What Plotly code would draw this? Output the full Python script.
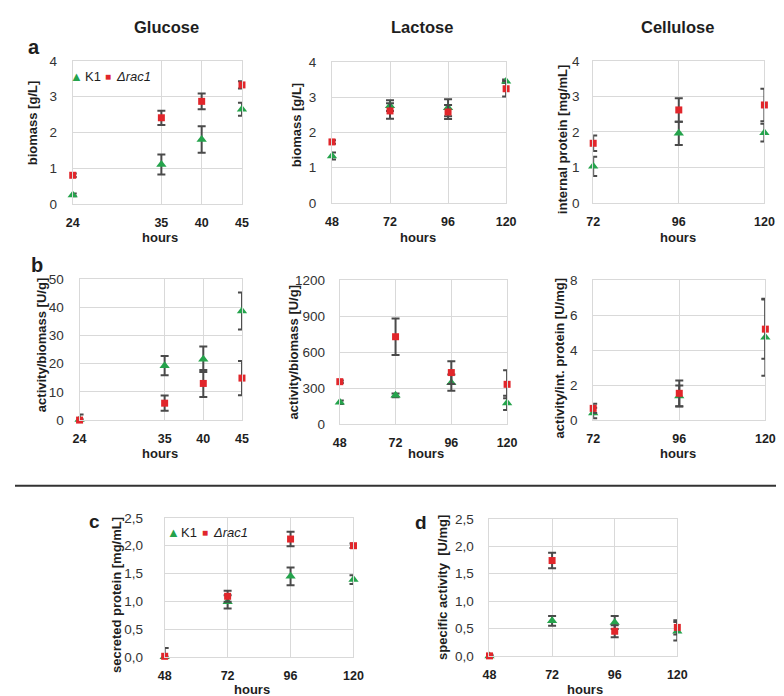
import plotly.graph_objects as go

# ---------------- data ----------------
glu_hours = [24, 35, 40, 45]
lac_hours = [48, 72, 96, 120]
cel_hours = [72, 96, 120]

# (a) biomass / internal protein
glu_bio_k1 = [0.25, 1.10, 1.80, 2.65]
glu_bio_k1_err = [0.04, 0.28, 0.37, 0.18]
glu_bio_rac = [0.80, 2.41, 2.87, 3.33]
glu_bio_rac_err = [0.05, 0.20, 0.22, 0.10]

lac_bio_k1 = [1.33, 2.76, 2.70, 3.45]
lac_bio_k1_err = [0.10, 0.15, 0.24, 0.05]
lac_bio_rac = [1.73, 2.61, 2.58, 3.24]
lac_bio_rac_err = [0.05, 0.22, 0.20, 0.22]

cel_prot_k1 = [1.03, 1.96, 1.98]
cel_prot_k1_err = [0.27, 0.33, 0.25]
cel_prot_rac = [1.68, 2.62, 2.76]
cel_prot_rac_err = [0.22, 0.33, 0.46]

# (b) activity
glu_act_k1 = [0.2, 19.3, 21.6, 38.7]
glu_act_k1_err = [1.8, 3.4, 4.5, 6.6]
glu_act_rac = [0.0, 6.0, 13.0, 14.9]
glu_act_rac_err = [0.3, 2.7, 4.8, 6.1]

lac_act_k1 = [182, 239, 345, 176]
lac_act_k1_err = [15, 15, 68, 60]
lac_act_rac = [353, 728, 429, 331]
lac_act_rac_err = [10, 152, 95, 117]

cel_act_k1 = [0.41, 1.38, 4.73]
cel_act_k1_err = [0.30, 0.60, 2.20]
cel_act_rac = [0.67, 1.53, 5.20]
cel_act_rac_err = [0.26, 0.74, 1.70]

# (c) secreted protein, (d) specific activity
sec_k1 = [0.0, 0.99, 1.45, 1.39]
sec_k1_err = [0.0, 0.12, 0.16, 0.08]
sec_rac = [0.01, 1.09, 2.12, 2.00]
sec_rac_err = [0.15, 0.10, 0.13, 0.04]

spec_k1 = [0.0, 0.64, 0.61, 0.45]
spec_k1_err = [0.0, 0.09, 0.12, 0.17]
spec_rac = [0.0, 1.74, 0.45, 0.52]
spec_rac_err = [0.02, 0.14, 0.11, 0.13]

comma_vals = [0, 0.5, 1.0, 1.5, 2.0, 2.5]
comma_text = ["0,0", "0,5", "1,0", "1,5", "2,0", "2,5"]

# ---------------- style ----------------
W, H = 784, 696
FONT = "Arial, Liberation Sans, sans-serif"
GREEN = "#25a34c"
RED = "#e1262b"
ERR = "#4a4a4a"
GRID = "#d9d9d9"
TXT = "#1e1e1e"


def px(x):
    return x / W


def py(y):
    return 1 - y / H


panels = [
    (glu_hours, glu_bio_k1, glu_bio_k1_err, glu_bio_rac, glu_bio_rac_err, (59, 232), (47, 193), [24, 45], glu_hours, [0, 4], dict(dtick=1), 12),
    (lac_hours, lac_bio_k1, lac_bio_k1_err, lac_bio_rac, lac_bio_rac_err, (324, 502), (48, 192), [48, 120], lac_hours, [0, 4], dict(dtick=1), 12),
    (cel_hours, cel_prot_k1, cel_prot_k1_err, cel_prot_rac, cel_prot_rac_err, (591, 766), (47, 192), [72, 120], cel_hours, [0, 4], dict(dtick=1), 10),
    (glu_hours, glu_act_k1, glu_act_k1_err, glu_act_rac, glu_act_rac_err, (66, 232), (270, 414), [24, 45], glu_hours, [0, 50], dict(dtick=10), 12),
    (lac_hours, lac_act_k1, lac_act_k1_err, lac_act_rac, lac_act_rac_err, (332, 503), (271, 418), [48, 120], lac_hours, [0, 1200], dict(dtick=300), 11),
    (cel_hours, cel_act_k1, cel_act_k1_err, cel_act_rac, cel_act_rac_err, (591, 767), (271, 414), [72, 120], cel_hours, [0, 8], dict(dtick=2), 12),
    (lac_hours, sec_k1, sec_k1_err, sec_rac, sec_rac_err, (153, 346), (514, 656), [48, 120], lac_hours, [0, 2.5], dict(tickvals=comma_vals, ticktext=comma_text), 18),
    (lac_hours, spec_k1, spec_k1_err, spec_rac, spec_rac_err, (485, 677), (515, 655), [48, 120], lac_hours, [0, 2.5], dict(tickvals=comma_vals, ticktext=comma_text), 12),
]

fig = go.Figure()
layout = dict(
    width=W, height=H,
    margin=dict(l=0, r=0, t=0, b=0),
    paper_bgcolor="white", plot_bgcolor="white",
    showlegend=False,
    font=dict(family=FONT, color=TXT),
)

for i, (xs, k1, k1e, rac, race, xd, yd, xr, xt, yr, yt, ystand) in enumerate(panels, start=1):
    sfx = "" if i == 1 else str(i)
    fig.add_trace(go.Scatter(
        x=xs, y=k1, mode="markers", name="K1",
        xaxis="x" + sfx, yaxis="y" + sfx, cliponaxis=False,
        marker=dict(symbol="triangle-up", size=9, color=GREEN),
        error_y=dict(type="data", array=k1e, visible=True, color=ERR, thickness=2, width=4),
    ))
    fig.add_trace(go.Scatter(
        x=xs, y=rac, mode="markers", name="Δrac1",
        xaxis="x" + sfx, yaxis="y" + sfx, cliponaxis=False,
        marker=dict(symbol="square", size=7, color=RED),
        error_y=dict(type="data", array=race, visible=True, color=ERR, thickness=2, width=4),
    ))
    layout["xaxis" + sfx] = dict(
        domain=[px(xd[0]), px(xd[1])], anchor="y" + sfx, range=xr,
        tickvals=xt, showgrid=True, gridcolor=GRID, gridwidth=1,
        showline=True, linecolor=GRID, linewidth=1, mirror=True,
        zeroline=False, ticks="", ticklabelstandoff=7,
        tickfont=dict(family=FONT, size=12.5, color=TXT, weight="bold"),
    )
    yax = dict(
        domain=[py(yd[1]), py(yd[0])], anchor="x" + sfx, range=yr,
        showgrid=True, gridcolor=GRID, gridwidth=1,
        showline=True, linecolor=GRID, linewidth=1, mirror=True,
        zeroline=False, ticks="", ticklabelstandoff=ystand,
        tickfont=dict(family=FONT, size=13.5, color="#333333"),
    )
    yax.update(yt)
    layout["yaxis" + sfx] = yax

fig.update_layout(**layout)


def ann(text, x, y, size=12, bold=True, angle=0, color=TXT, xanchor="center", italic=False):
    t = text
    if italic:
        t = "<i>" + t + "</i>"
    fig.add_annotation(
        text=t, x=px(x), y=py(y), xref="paper", yref="paper",
        showarrow=False, textangle=angle, xanchor=xanchor, yanchor="middle",
        font=dict(family=FONT, size=size, color=color, weight="bold" if bold else "normal"),
    )


# column titles
ann("Glucose", 155, 12, size=16.5)
ann("Lactose", 416, 12, size=16.5)
ann("Cellulose", 677, 12, size=16.5)

# panel letters
ann("a", 19, 33, size=20)
ann("b", 22, 255, size=20)
ann("c", 81, 518, size=19)
ann("d", 415, 519, size=19)

# x axis titles
for x, y in [(148, 227), (412, 227), (678, 227), (148, 448), (420, 448), (678, 448), (242, 689), (583, 689)]:
    ann("hours", x, y, size=13)

# y axis titles
ann("biomass [g/L]", 18, 110, size=13, angle=-90)
ann("biomass [g/L]", 288, 112, size=13, angle=-90)
ann("internal protein [mg/mL]", 559, 127, size=13, angle=-90)
ann("activity/biomass [U/g]", 27, 337, size=13, angle=-90)
ann("activity/biomass [U/g]", 285, 345, size=13, angle=-90)
ann("activity/int. protein [U/mg]", 556, 351, size=13, angle=-90)
ann("secreted protein [mg/mL]", 103, 593, size=13, angle=-90)
ann("specific activity  [U/mg]", 437, 585, size=13, angle=-90)

# legends (panel a glucose and panel c)
for (tx, ty) in [(63, 63), (162, 529)]:
    ann("▲", tx, ty, size=13, bold=False, color=GREEN)
    ann("K1", tx + 6, ty, size=13, bold=False, xanchor="left")
    ann("■", tx + 32, ty, size=10, bold=False, color=RED)
    ann("Δrac1", tx + 38, ty, size=13, bold=False, xanchor="left", italic=True)

# separator line
fig.add_shape(type="line", xref="paper", yref="paper", x0=0, x1=1, y0=py(481), y1=py(481),
              line=dict(color="#333333", width=2))

fig.write_html("out.html")
